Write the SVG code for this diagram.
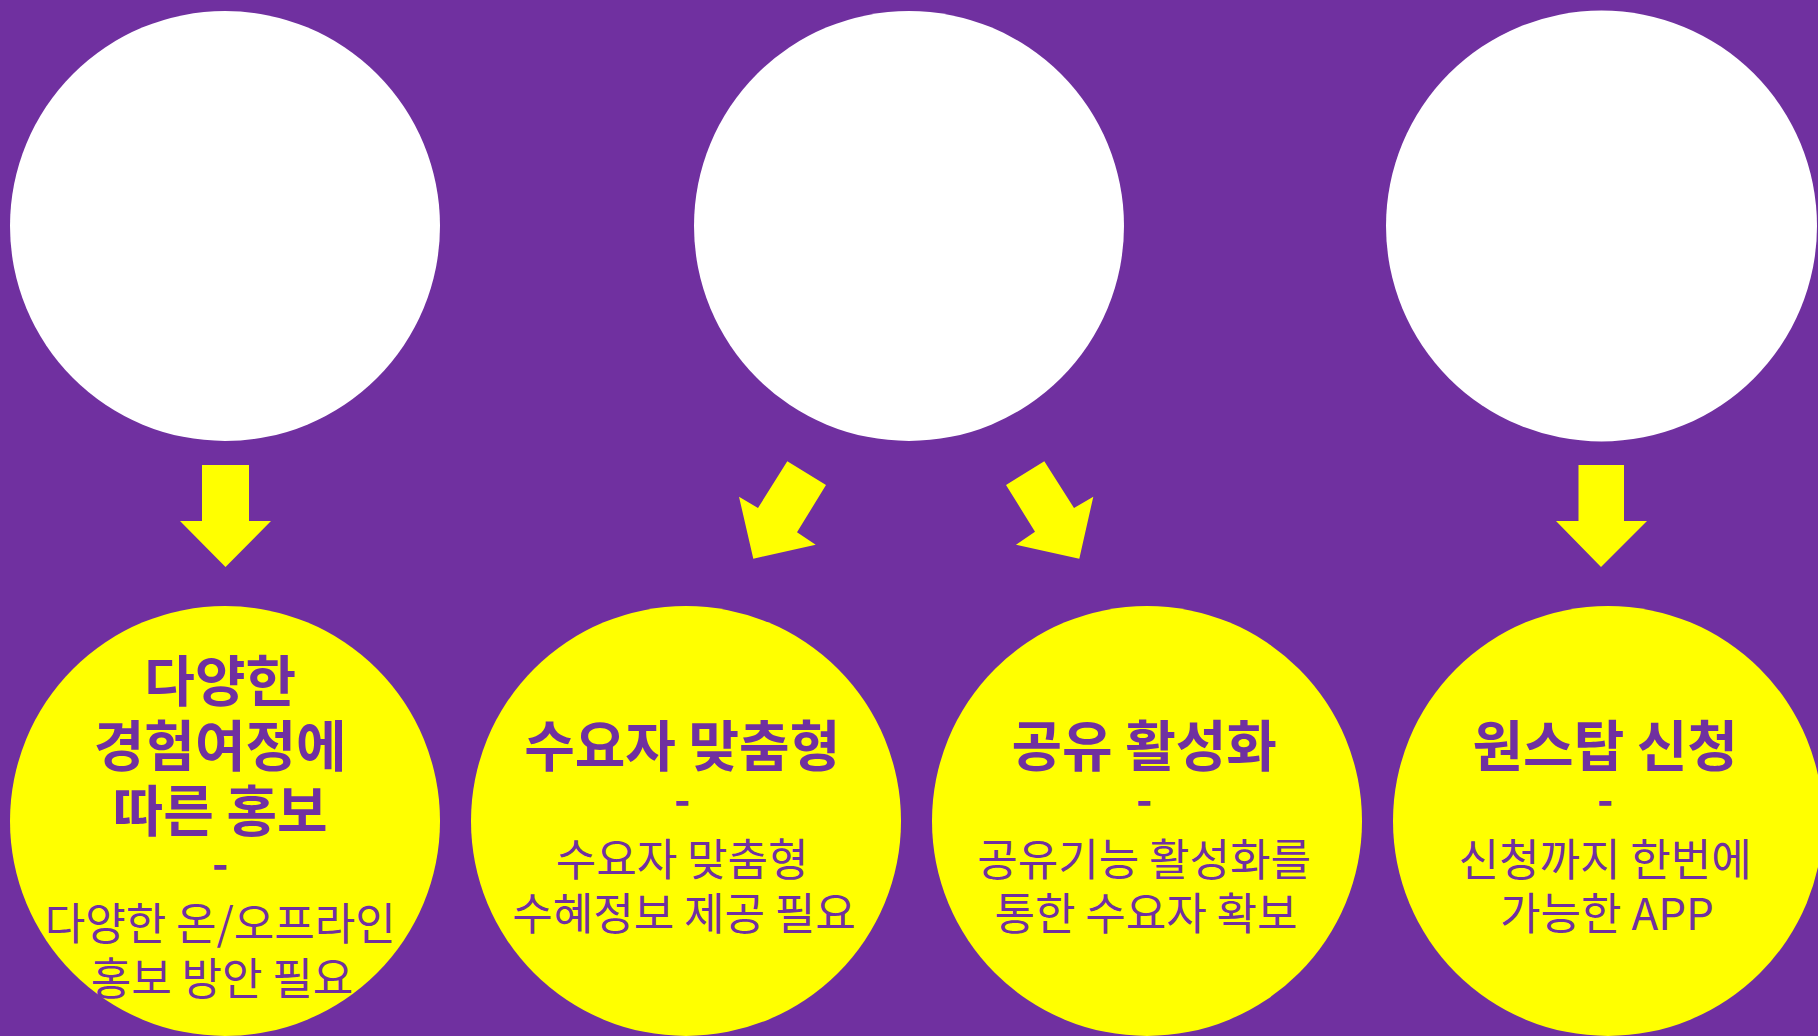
<svg xmlns="http://www.w3.org/2000/svg" width="1818" height="1036" viewBox="0 0 1818 1036">
  <style>
    .top { fill: #FFFFFF; }
    .bottom { fill: #FFFF00; }
    .arrow { fill: #FFFF00; }
    text { font-family: "Noto Sans CJK KR", "Noto Sans", sans-serif; fill: #7030A0; text-anchor: middle; }
    .title { font-size: 55px; font-weight: 700; }
    .dash { font-size: 44px; font-weight: 700; }
    .body { font-size: 44px; font-weight: 400; }
  </style>
  <rect x="0" y="0" width="1818" height="1036" fill="#7030A0"/>

  <g id="node-top-1"><circle class="top" cx="225" cy="226" r="215"/></g>
  <g id="node-top-2"><circle class="top" cx="909" cy="226" r="215"/></g>
  <g id="node-top-3"><circle class="top" cx="1601.5" cy="226" r="215.5"/></g>

  <g id="connectors">
    <polygon class="arrow" points="202,465 249,465 249,521 271,521 225.5,567 180,521 202,521"/>
    <polygon class="arrow" points="787.3,461.3 826,485 797,532.3 815.7,544.7 753.3,558.7 739,496.7 758,508"/>
    <polygon class="arrow" points="1044.3,461.3 1006,485 1035,531.7 1016,544.7 1079.3,558.7 1093.3,496.7 1074,508"/>
    <polygon class="arrow" points="1578.5,465 1624,465 1624,521 1647,521 1601,567 1556,521 1578.5,521"/>
  </g>

  <g id="node-bottom-1">
    <circle class="bottom" cx="225" cy="821" r="215"/>
    <text>
      <tspan class="title" x="222" y="701">다양한</tspan>
      <tspan class="title" x="222" y="766">경험여정에</tspan>
      <tspan class="title" x="222" y="831">따른 홍보</tspan>
      <tspan class="dash" x="222" y="880">-</tspan>
      <tspan class="body" x="222" y="940">다양한 온/오프라인</tspan>
      <tspan class="body" x="222" y="995">홍보 방안 필요</tspan>
    </text>
  </g>

  <g id="node-bottom-2">
    <circle class="bottom" cx="686" cy="821" r="215"/>
    <text>
      <tspan class="title" x="684" y="766">수요자 맞춤형</tspan>
      <tspan class="dash" x="684" y="816">-</tspan>
      <tspan class="body" x="684" y="876">수요자 맞춤형</tspan>
      <tspan class="body" x="684" y="930">수혜정보 제공 필요</tspan>
    </text>
  </g>

  <g id="node-bottom-3">
    <circle class="bottom" cx="1147" cy="821" r="215"/>
    <text>
      <tspan class="title" x="1146" y="766">공유 활성화</tspan>
      <tspan class="dash" x="1146" y="816">-</tspan>
      <tspan class="body" x="1146" y="876">공유기능 활성화를</tspan>
      <tspan class="body" x="1146" y="930">통한 수요자 확보</tspan>
    </text>
  </g>

  <g id="node-bottom-4">
    <circle class="bottom" cx="1608" cy="821" r="215"/>
    <text>
      <tspan class="title" x="1607" y="766">원스탑 신청</tspan>
      <tspan class="dash" x="1607" y="816">-</tspan>
      <tspan class="body" x="1607" y="876">신청까지 한번에</tspan>
      <tspan class="body" x="1607" y="930">가능한 APP</tspan>
    </text>
  </g>
</svg>
